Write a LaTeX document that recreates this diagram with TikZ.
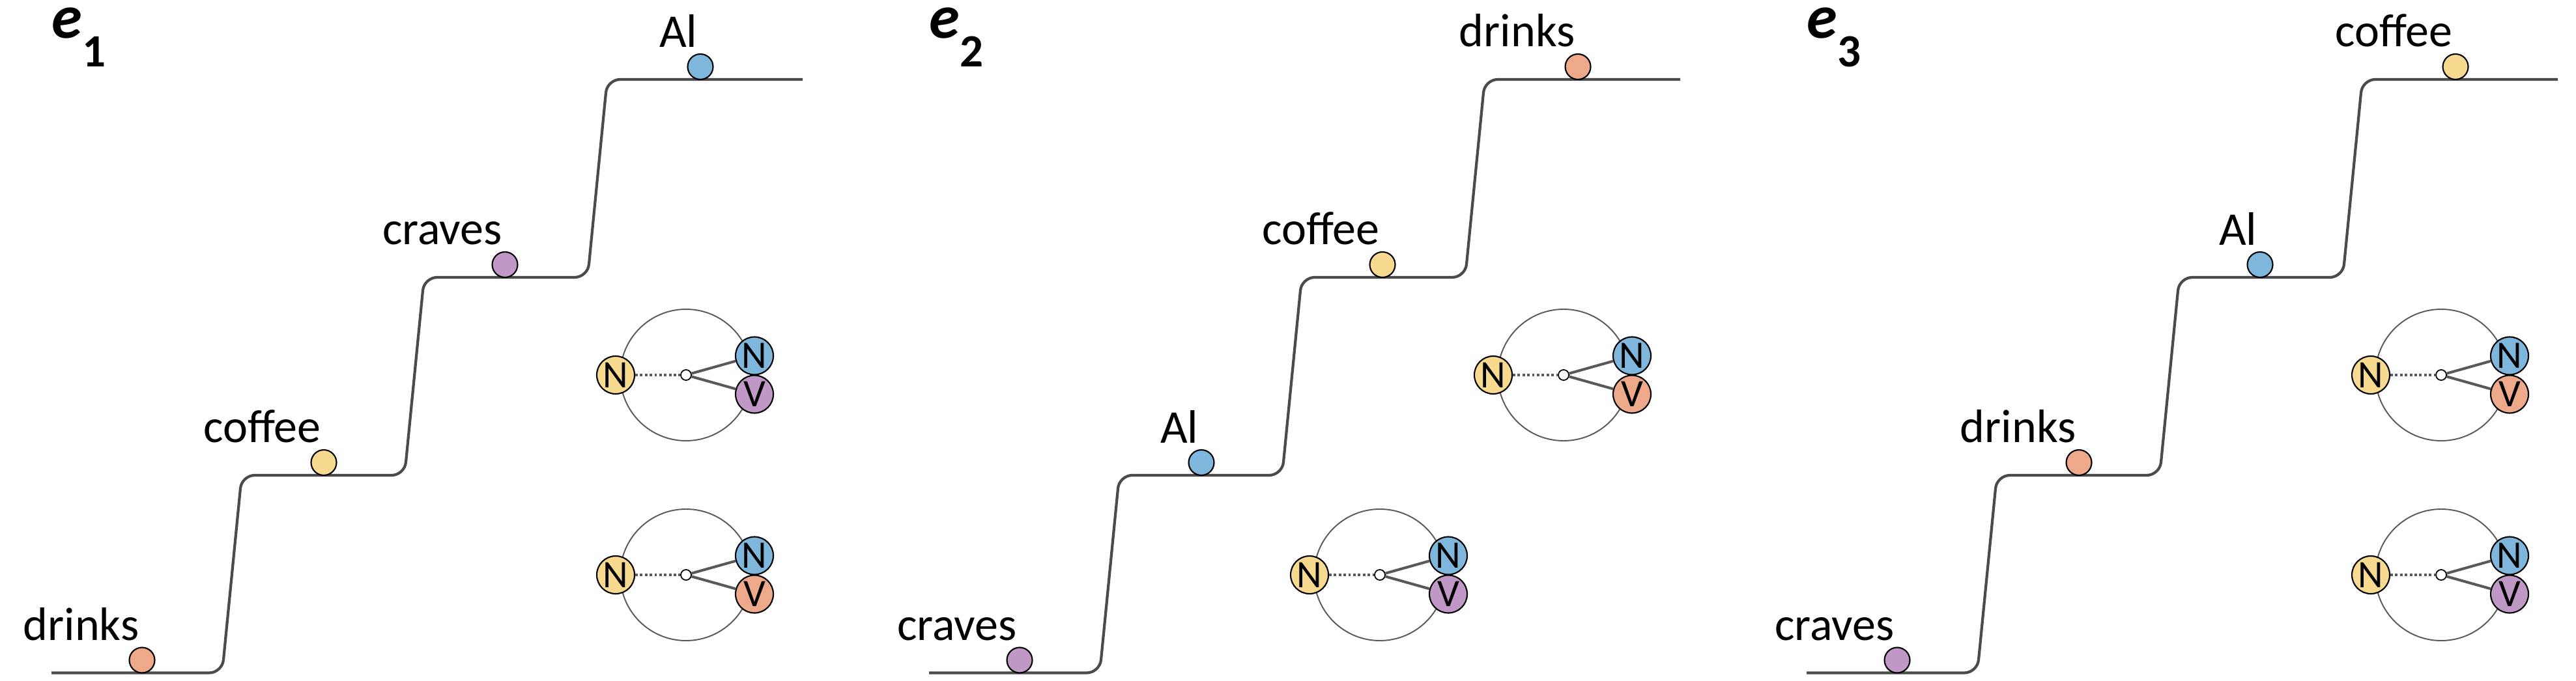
\documentclass[tikz,border=0pt]{standalone}
\usepackage{fontspec}
\setmainfont{Carlito}
\usepackage{tikz}
\usepackage{xcolor}
\usetikzlibrary{positioning}

\definecolor{wdrinks}{RGB}{237,169,138}
\definecolor{wcoffee}{RGB}{247,217,143}
\definecolor{wcraves}{RGB}{192,152,198}
\definecolor{wal}{RGB}{127,182,220}
\definecolor{stairgray}{RGB}{75,75,75}
\definecolor{ringgray}{RGB}{89,89,89}

\begin{document}
\begin{tikzpicture}[x=1mm,y=1mm]
\tikzstyle{every node}+=[inner sep=0pt]
\tikzstyle{ball}=[circle,draw=black,line width=0.6pt,minimum size=3.9mm]
\tikzstyle{word}=[font=\fontsize{20.5pt}{24pt}\selectfont]
\tikzstyle{title}=[anchor=base west,font=\bfseries]
\tikzstyle{tag}=[circle,draw=black,line width=0.6pt,minimum size=5.8mm,font=\fontsize{17pt}{19pt}\selectfont]
\tikzstyle{hub}=[circle,draw=black,fill=white,line width=0.5pt,minimum size=1.6mm]
\tikzstyle{stairs}=[draw=stairgray,line width=1.2pt,rounded corners=2mm]
\tikzstyle{link}=[draw=ringgray,line width=1.15pt]
\tikzstyle{dots}=[draw=ringgray,line width=1pt,dash pattern=on 1.1pt off 1pt]
\tikzstyle{ring}=[draw=ringgray,line width=0.55pt]
\useasboundingbox (0,0) rectangle (395.4,-104.6);

% e_1
\begin{scope}
\node[title] (t1) at (7.9,-5.9) {{\fontsize{27pt}{32pt}\selectfont\itshape e}\raisebox{-4.4mm}{\fontsize{20.2pt}{24pt}\selectfont 1}};
\draw[stairs] (7.9,-103.35) -- (34.1,-103.35) -- (37.1,-73) -- (62.1,-73) -- (65.1,-42.6) -- (90.2,-42.6) -- (93.2,-12.2) -- (123.2,-12.2);
\node[ball,fill=wdrinks] (b11) at (21.8,-101.4) {};
\node[ball,fill=wcoffee] (b12) at (49.7,-71.05) {};
\node[ball,fill=wcraves] (b13) at (77.5,-40.65) {};
\node[ball,fill=wal] (b14) at (107.5,-10.25) {};
\node[word,above left=0.9mm and 0.4mm of b11.north] (w11) {drinks};
\node[word,above left=0.9mm and 0.4mm of b12.north] (w12) {coffee};
\node[word,above left=0.9mm and 0.4mm of b13.north] (w13) {craves};
\node[word,above left=0.9mm and 0.4mm of b14.north] (w14) {Al};
\begin{scope}[shift={(105.3,-57.6)}]
\node[hub] (h1a) at (0,0) {};
\draw[ring] (h1a) circle (10.1);
\node[tag,fill=wcoffee] (n1a) at (-10.8,0) {N};
\node[tag,fill=wal] (m1a) at (10.5,2.95) {N};
\node[tag,fill=wcraves] (v1a) at (10.5,-2.95) {V};
\draw[dots] (n1a) -- (h1a);
\draw[link] (h1a) -- (m1a);
\draw[link] (h1a) -- (v1a);
\end{scope}
\begin{scope}[shift={(105.3,-88.3)}]
\node[hub] (h1b) at (0,0) {};
\draw[ring] (h1b) circle (10.1);
\node[tag,fill=wcoffee] (n1b) at (-10.8,0) {N};
\node[tag,fill=wal] (m1b) at (10.5,2.95) {N};
\node[tag,fill=wdrinks] (v1b) at (10.5,-2.95) {V};
\draw[dots] (n1b) -- (h1b);
\draw[link] (h1b) -- (m1b);
\draw[link] (h1b) -- (v1b);
\end{scope}
\end{scope}

% e_2
\begin{scope}[shift={(134.7,0)}]
\node[title] (t2) at (7.9,-5.9) {{\fontsize{27pt}{32pt}\selectfont\itshape e}\raisebox{-4.4mm}{\fontsize{20.2pt}{24pt}\selectfont 2}};
\draw[stairs] (7.9,-103.35) -- (34.1,-103.35) -- (37.1,-73) -- (62.1,-73) -- (65.1,-42.6) -- (90.2,-42.6) -- (93.2,-12.2) -- (123.2,-12.2);
\node[ball,fill=wcraves] (b21) at (21.8,-101.4) {};
\node[ball,fill=wal] (b22) at (49.7,-71.05) {};
\node[ball,fill=wcoffee] (b23) at (77.5,-40.65) {};
\node[ball,fill=wdrinks] (b24) at (107.5,-10.25) {};
\node[word,above left=0.9mm and 0.4mm of b21.north] (w21) {craves};
\node[word,above left=0.9mm and 0.4mm of b22.north] (w22) {Al};
\node[word,above left=0.9mm and 0.4mm of b23.north] (w23) {coffee};
\node[word,above left=0.9mm and 0.4mm of b24.north] (w24) {drinks};
\begin{scope}[shift={(105.3,-57.6)}]
\node[hub] (h2a) at (0,0) {};
\draw[ring] (h2a) circle (10.1);
\node[tag,fill=wcoffee] (n2a) at (-10.8,0) {N};
\node[tag,fill=wal] (m2a) at (10.5,2.95) {N};
\node[tag,fill=wdrinks] (v2a) at (10.5,-2.95) {V};
\draw[dots] (n2a) -- (h2a);
\draw[link] (h2a) -- (m2a);
\draw[link] (h2a) -- (v2a);
\end{scope}
\begin{scope}[shift={(77.1,-88.3)}]
\node[hub] (h2b) at (0,0) {};
\draw[ring] (h2b) circle (10.1);
\node[tag,fill=wcoffee] (n2b) at (-10.8,0) {N};
\node[tag,fill=wal] (m2b) at (10.5,2.95) {N};
\node[tag,fill=wcraves] (v2b) at (10.5,-2.95) {V};
\draw[dots] (n2b) -- (h2b);
\draw[link] (h2b) -- (m2b);
\draw[link] (h2b) -- (v2b);
\end{scope}
\end{scope}

% e_3
\begin{scope}[shift={(269.4,0)}]
\node[title] (t3) at (7.9,-5.9) {{\fontsize{27pt}{32pt}\selectfont\itshape e}\raisebox{-4.4mm}{\fontsize{20.2pt}{24pt}\selectfont 3}};
\draw[stairs] (7.9,-103.35) -- (34.1,-103.35) -- (37.1,-73) -- (62.1,-73) -- (65.1,-42.6) -- (90.2,-42.6) -- (93.2,-12.2) -- (123.2,-12.2);
\node[ball,fill=wcraves] (b31) at (21.8,-101.4) {};
\node[ball,fill=wdrinks] (b32) at (49.7,-71.05) {};
\node[ball,fill=wal] (b33) at (77.5,-40.65) {};
\node[ball,fill=wcoffee] (b34) at (107.5,-10.25) {};
\node[word,above left=0.9mm and 0.4mm of b31.north] (w31) {craves};
\node[word,above left=0.9mm and 0.4mm of b32.north] (w32) {drinks};
\node[word,above left=0.9mm and 0.4mm of b33.north] (w33) {Al};
\node[word,above left=0.9mm and 0.4mm of b34.north] (w34) {coffee};
\begin{scope}[shift={(105.3,-57.6)}]
\node[hub] (h3a) at (0,0) {};
\draw[ring] (h3a) circle (10.1);
\node[tag,fill=wcoffee] (n3a) at (-10.8,0) {N};
\node[tag,fill=wal] (m3a) at (10.5,2.95) {N};
\node[tag,fill=wdrinks] (v3a) at (10.5,-2.95) {V};
\draw[dots] (n3a) -- (h3a);
\draw[link] (h3a) -- (m3a);
\draw[link] (h3a) -- (v3a);
\end{scope}
\begin{scope}[shift={(105.3,-88.3)}]
\node[hub] (h3b) at (0,0) {};
\draw[ring] (h3b) circle (10.1);
\node[tag,fill=wcoffee] (n3b) at (-10.8,0) {N};
\node[tag,fill=wal] (m3b) at (10.5,2.95) {N};
\node[tag,fill=wcraves] (v3b) at (10.5,-2.95) {V};
\draw[dots] (n3b) -- (h3b);
\draw[link] (h3b) -- (m3b);
\draw[link] (h3b) -- (v3b);
\end{scope}
\end{scope}
\end{tikzpicture}
\end{document}
